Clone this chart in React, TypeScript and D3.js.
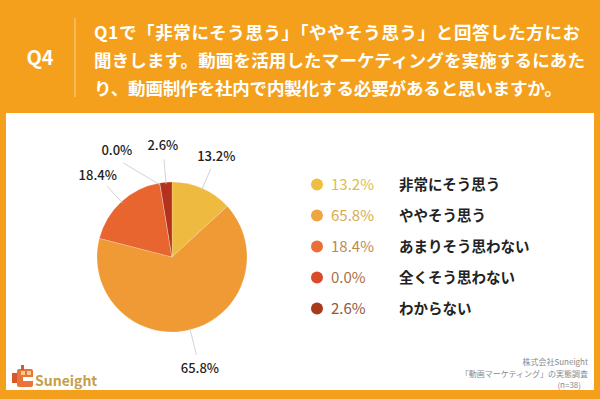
import React, { useEffect, useRef } from 'react';
import * as d3 from 'd3';

const categories = ['非常にそう思う', 'ややそう思う', 'あまりそう思わない', '全くそう思わない', 'わからない'];
const values = [13.2, 65.8, 18.4, 0.0, 2.6];
const sliceColors = ['#EFBA40', '#EF9A35', '#E8652F', '#D84A2A', '#B4321C'];
const dotColors = ['#EDBE42', '#EEA640', '#EA6E36', '#DA4B2B', '#A83A1E'];
const pctColors = ['#DEBE48', '#D9AA50', '#C08A4E', '#A87046', '#92583A'];
const titleLines = [
  'Q1で「非常にそう思う」「ややそう思う」と回答した方にお',
  '聞きします。動画を活用したマーケティングを実施するにあた',
  'り、動画制作を社内で内製化する必要があると思いますか。',
];
const titleWidths = [486, 491, 468];
const sourceLines = ['株式会社Suneight', '「動画マーケティング」の実態調査', '(n=38)'];

const W = 600;
const H = 399;
const FONT = '"Noto Sans CJK JP", "Noto Sans", sans-serif';

const App: React.FC = () => {
  const svgRef = useRef<SVGSVGElement | null>(null);

  useEffect(() => {
    if (!svgRef.current) return;
    const svg = d3.select(svgRef.current);
    svg.selectAll('*').remove();

    // background + white panel
    svg.append('rect').attr('width', W).attr('height', H).attr('fill', '#F4A01C');
    svg.append('rect')
      .attr('x', 6).attr('y', 113).attr('width', 588).attr('height', 277)
      .attr('fill', '#fff');

    // header
    svg.append('text')
      .attr('x', 40).attr('y', 65)
      .attr('text-anchor', 'middle')
      .attr('font-family', FONT).attr('font-weight', 700).attr('font-size', 20)
      .attr('fill', '#fff')
      .text('Q4');
    svg.append('line')
      .attr('x1', 75).attr('x2', 75).attr('y1', 18).attr('y2', 97)
      .attr('stroke', 'rgba(255,255,255,0.5)').attr('stroke-width', 1);
    titleLines.forEach((t, i) => {
      svg.append('text')
        .attr('x', 94).attr('y', 39 + i * 28)
        .attr('textLength', titleWidths[i])
        .attr('lengthAdjust', 'spacing')
        .attr('font-family', FONT).attr('font-weight', 700).attr('font-size', 17.5)
        .attr('fill', '#fff')
        .text(t);
    });

    // pie
    const cx = 172, cy = 257, r = 75;
    const g = svg.append('g').attr('transform', `translate(${cx},${cy})`);
    const pie = d3.pie<number>().sort(null).value(d => d);
    const arcs = pie(values);
    const arc = d3.arc<d3.PieArcDatum<number>>().innerRadius(0).outerRadius(r);

    g.selectAll('path.slice')
      .data(arcs)
      .enter().append('path')
      .attr('class', 'slice')
      .attr('d', arc)
      .attr('fill', (_, i) => sliceColors[i])
      .attr('stroke', 'rgba(255,255,255,0.4)')
      .attr('stroke-width', 0.5);

    // outside labels with leader lines
    const nudge = [0, 0, 0, -18, 0];
    const labelR = [110, 115, 110, 120, 112];
    arcs.forEach((a, i) => {
      const mid = (a.startAngle + a.endAngle) / 2;
      const la = mid + (nudge[i] * Math.PI) / 180;
      const lx = Math.sin(la) * labelR[i];
      const ly = -Math.cos(la) * labelR[i];
      const sx = Math.sin(mid) * (r - 2);
      const sy = -Math.cos(mid) * (r - 2);
      const ex = Math.sin(la) * (labelR[i] - 14);
      const ey = -Math.cos(la) * (labelR[i] - 14);
      g.append('line')
        .attr('x1', sx).attr('y1', sy).attr('x2', ex).attr('y2', ey)
        .attr('stroke', '#c8c8c8').attr('stroke-width', 0.8);
      g.append('text')
        .attr('x', lx).attr('y', ly)
        .attr('dy', '0.35em')
        .attr('text-anchor', 'middle')
        .attr('font-family', FONT).attr('font-weight', 500).attr('font-size', 13)
        .attr('fill', '#222')
        .text(`${values[i].toFixed(1)}%`);
    });

    // legend
    const ly = d3.scaleBand<string>().domain(categories).range([169, 324]);
    const legend = svg.append('g');
    categories.forEach((c, i) => {
      const y = (ly(c) || 0) + ly.bandwidth() / 2;
      legend.append('circle')
        .attr('cx', 317).attr('cy', y).attr('r', 6)
        .attr('fill', dotColors[i]);
      legend.append('text')
        .attr('x', 331).attr('y', y).attr('dy', '0.36em')
        .attr('font-family', FONT).attr('font-weight', 400).attr('font-size', 15)
        .attr('fill', pctColors[i])
        .text(`${values[i].toFixed(1)}%`);
      legend.append('text')
        .attr('x', 399).attr('y', y).attr('dy', '0.36em')
        .attr('font-family', FONT).attr('font-weight', 700).attr('font-size', 14.5)
        .attr('fill', '#222')
        .text(c);
    });

    // logo
    const logo = svg.append('g').attr('transform', 'translate(12,365)');
    logo.append('rect').attr('x', 0).attr('y', 8).attr('width', 6).attr('height', 10).attr('fill', '#D9572C');
    logo.append('rect').attr('x', 5).attr('y', 4).attr('width', 16).attr('height', 18).attr('rx', 2).attr('fill', '#E8743A');
    logo.append('rect').attr('x', 9).attr('y', 0).attr('width', 3).attr('height', 5).attr('fill', '#D9572C');
    logo.append('rect').attr('x', 11).attr('y', 12).attr('width', 10).attr('height', 4).attr('fill', '#fff');
    logo.append('rect').attr('x', 9).attr('y', 6).attr('width', 4).attr('height', 4).attr('fill', '#F7C98A');
    logo.append('rect').attr('x', 15).attr('y', 6).attr('width', 4).attr('height', 4).attr('fill', '#F7C98A');
    svg.append('text')
      .attr('x', 35).attr('y', 386)
      .attr('font-family', FONT).attr('font-weight', 700).attr('font-size', 14)
      .attr('fill', '#C4A048')
      .text('Suneight');

    // source
    sourceLines.forEach((t, i) => {
      svg.append('text')
        .attr('x', i === 2 ? 581 : 588).attr('y', 365 + i * 11.5)
        .attr('text-anchor', 'end')
        .attr('font-family', FONT).attr('font-size', 8)
        .attr('fill', '#8a8a8a')
        .text(t);
    });
  }, []);

  return (
    <div style={{ position: 'absolute', left: 0, top: 0, width: W, height: H }}>
      <svg ref={svgRef} width={W} height={H} style={{ display: 'block' }} />
    </div>
  );
};

export default App;
